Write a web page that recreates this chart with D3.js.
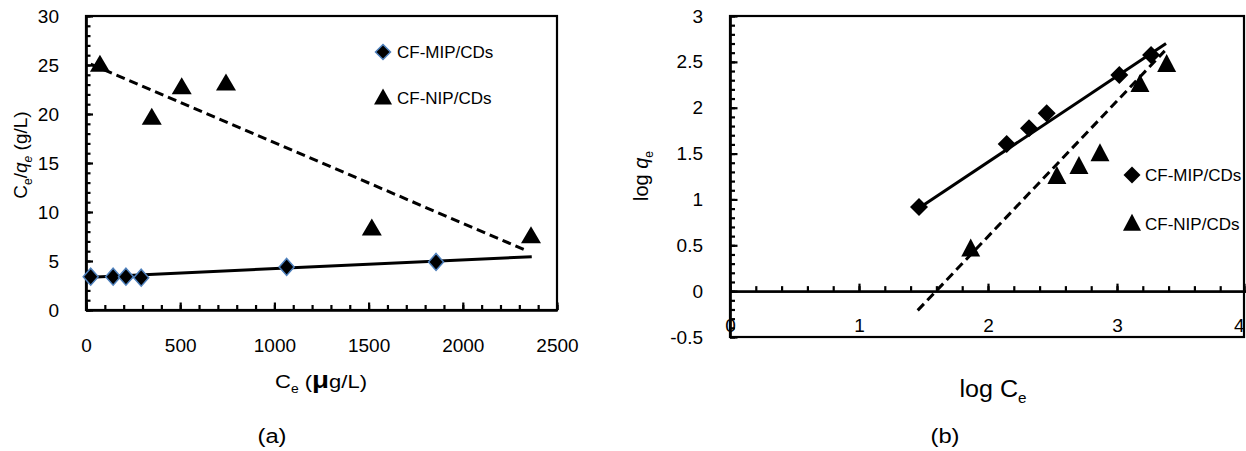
<!DOCTYPE html>
<html>
<head>
<meta charset="utf-8">
<script src="https://cdn.jsdelivr.net/npm/d3@7"></script>
<style>
  body { margin: 0; background: #fff; }
  text { font-family: "Liberation Sans", Arial, sans-serif; fill: #000; }
</style>
</head>
<body>
<svg id="fig" width="1246" height="451"></svg>
<script>
// ---- data ----
// panel (a): linear form Ce/qe vs Ce
const mipCe    = [25, 144, 212, 293, 1065, 1858];
const mipRatio = [3.4, 3.4, 3.4, 3.3, 4.4, 4.9];
const nipCe    = [74, 349, 508, 743, 1517, 2362];
const nipRatio = [25.0, 19.6, 22.7, 23.1, 8.3, 7.5];
const mipFitCe = [25, 2366],  mipFitRatio = [3.35, 5.44];
const nipFitCe = [25, 2340],  nipFitRatio = [25.1, 6.05];

// panel (b): log qe vs log Ce
const mipLogCe = [1.465, 2.145, 2.318, 2.455, 3.018, 3.264];
const mipLogQe = [0.917, 1.605, 1.776, 1.94, 2.358, 2.576];
const nipLogCe = [1.866, 2.534, 2.705, 2.868, 3.178, 3.385];
const nipLogQe = [0.455, 1.248, 1.357, 1.496, 2.249, 2.467];
const mipFitLogCe = [1.46, 3.38],  mipFitLogQe = [0.90, 2.70];
const nipFitLogCe = [1.455, 3.37], nipFitLogQe = [-0.21, 2.62];

const seriesNames = ["CF-MIP/CDs", "CF-NIP/CDs"];
const xTicksA = [0, 500, 1000, 1500, 2000, 2500];
const yTicksA = [0, 5, 10, 15, 20, 25, 30];
const xTicksB = [0, 1, 2, 3, 4];
const yTicksB = [-0.5, 0, 0.5, 1, 1.5, 2, 2.5, 3];

const svg = d3.select("#fig");

// small shape helpers (centered on 0,0)
function diamond(w, h) {
  return `M0,${-h/2}L${w/2},0L0,${h/2}L${-w/2},0Z`;
}
function triangle(w, h) {
  return `M0,${-h*0.6}L${w/2},${h*0.4}L${-w/2},${h*0.4}Z`;
}
const zip = (a, b) => a.map((v, i) => [v, b[i]]);
const plain = d => String(d);   // "-0.5", "2500", no grouping

// ================= panel (a) =================
const xA = d3.scaleLinear().domain([0, 2500]).range([86, 557]);
const yA = d3.scaleLinear().domain([0, 30]).range([310, 16]);
const gA = svg.append("g");

// frame
gA.append("rect").attr("x", 86).attr("y", 16)
  .attr("width", 557 - 86).attr("height", 310 - 16)
  .attr("fill", "none").attr("stroke", "#000").attr("stroke-width", 2.2);

// minor ticks
gA.append("g").attr("transform", "translate(86,0)")
  .call(d3.axisLeft(yA).tickValues(d3.range(0, 31, 1)).tickSize(-4.5).tickSizeOuter(0).tickFormat(""));
gA.append("g").attr("transform", "translate(0,310)")
  .call(d3.axisBottom(xA).tickValues(d3.range(0, 2501, 100)).tickSize(-5).tickSizeOuter(0).tickFormat(""));
// major ticks + labels
gA.append("g").attr("transform", "translate(86,0)")
  .call(d3.axisLeft(yA).tickValues(yTicksA).tickSize(-7).tickSizeOuter(0).tickPadding(27).tickFormat(plain));
gA.append("g").attr("transform", "translate(0,310)")
  .call(d3.axisBottom(xA).tickValues(xTicksA).tickSize(-7.5).tickSizeOuter(0).tickPadding(29).tickFormat(plain));

// fit lines
const lineA = d3.line().x(d => xA(d[0])).y(d => yA(d[1]));
gA.append("path").datum(zip(nipFitCe, nipFitRatio)).attr("d", lineA)
  .attr("fill", "none").attr("stroke", "#000").attr("stroke-width", 3)
  .attr("stroke-dasharray", "9,5");
gA.append("path").datum(zip(mipFitCe, mipFitRatio)).attr("d", lineA)
  .attr("fill", "none").attr("stroke", "#000").attr("stroke-width", 3);

// points
gA.selectAll(".nipA").data(zip(nipCe, nipRatio)).join("path")
  .attr("d", triangle(20, 17))
  .attr("transform", d => `translate(${xA(d[0])},${yA(d[1])})`)
  .attr("fill", "#000");
gA.selectAll(".mipA").data(zip(mipCe, mipRatio)).join("path")
  .attr("d", diamond(15, 17))
  .attr("transform", d => `translate(${xA(d[0])},${yA(d[1])})`)
  .attr("fill", "#000").attr("stroke", "#4f81bd").attr("stroke-width", 1.5);

// legend
gA.append("path").attr("d", diamond(15, 15)).attr("transform", "translate(383,52)")
  .attr("fill", "#000").attr("stroke", "#4f81bd").attr("stroke-width", 1.5);
gA.append("text").attr("x", 397).attr("y", 58).attr("font-size", 17).text(seriesNames[0]);
gA.append("path").attr("d", triangle(18, 16)).attr("transform", "translate(383,98)")
  .attr("fill", "#000");
gA.append("text").attr("x", 397).attr("y", 104).attr("font-size", 17).text(seriesNames[1]);

// axis titles
const xtA = gA.append("text").attr("x", 321).attr("y", 388).attr("text-anchor", "middle")
  .attr("font-size", 19).attr("textLength", 92).attr("lengthAdjust", "spacingAndGlyphs");
xtA.append("tspan").text("C");
xtA.append("tspan").attr("dy", 5).attr("font-size", 12).text("e");
xtA.append("tspan").attr("dy", -5).text(" (");
xtA.append("tspan").attr("font-weight", "bold").attr("font-size", 24).text("μ");
xtA.append("tspan").text("g/L)");

const ytA = gA.append("text").attr("transform", "translate(27,155) rotate(-90)")
  .attr("text-anchor", "middle").attr("font-size", 19);
ytA.append("tspan").text("C");
ytA.append("tspan").attr("dy", 5).attr("font-size", 12).text("e");
ytA.append("tspan").attr("dy", -5).text("/");
ytA.append("tspan").attr("font-style", "italic").text("q");
ytA.append("tspan").attr("dy", 5).attr("font-size", 12).attr("font-style", "italic").text("e");
ytA.append("tspan").attr("dy", -5).text(" (g/L)");

gA.append("text").attr("x", 272).attr("y", 443).attr("text-anchor", "middle")
  .attr("font-size", 20).attr("textLength", 29).attr("lengthAdjust", "spacingAndGlyphs").text("(a)");

// ================= panel (b) =================
const xB = d3.scaleLinear().domain([0, 4]).range([730, 1246]);
const yB = d3.scaleLinear().domain([-0.5, 3]).range([337, 16]);
const gB = svg.append("g");

gB.append("rect").attr("x", 730).attr("y", 16)
  .attr("width", 1244 - 730).attr("height", 337 - 16)
  .attr("fill", "none").attr("stroke", "#000").attr("stroke-width", 2.2);

// minor ticks
gB.append("g").attr("transform", "translate(730,0)")
  .call(d3.axisLeft(yB).tickValues(d3.range(-5, 31, 1).map(v => v / 10)).tickSize(-5).tickSizeOuter(0).tickFormat(""));
gB.append("g").attr("transform", `translate(0,${yB(0)})`)
  .call(d3.axisBottom(xB).tickValues(d3.range(0, 21, 1).map(v => v / 5)).tickSize(-5).tickSizeOuter(0).tickFormat(""));
// major ticks + labels
gB.append("g").attr("transform", "translate(730,0)")
  .call(d3.axisLeft(yB).tickValues(yTicksB).tickSize(-7.5).tickSizeOuter(0).tickPadding(27).tickFormat(plain));
const xAxB = gB.append("g").attr("transform", `translate(0,${yB(0)})`)
  .call(d3.axisBottom(xB).tickValues(xTicksB).tickSize(-7.5).tickSizeOuter(0).tickPadding(27).tickFormat(plain));
// last label sits on the page edge, keep it inside
xAxB.selectAll(".tick text").filter(d => d === 4).attr("text-anchor", "end").attr("dx", -2);

const lineB = d3.line().x(d => xB(d[0])).y(d => yB(d[1]));
gB.append("path").datum(zip(nipFitLogCe, nipFitLogQe)).attr("d", lineB)
  .attr("fill", "none").attr("stroke", "#000").attr("stroke-width", 3)
  .attr("stroke-dasharray", "9,5");
gB.append("path").datum(zip(mipFitLogCe, mipFitLogQe)).attr("d", lineB)
  .attr("fill", "none").attr("stroke", "#000").attr("stroke-width", 3);

gB.selectAll(".nipB").data(zip(nipLogCe, nipLogQe)).join("path")
  .attr("d", triangle(19, 18))
  .attr("transform", d => `translate(${xB(d[0])},${yB(d[1])})`)
  .attr("fill", "#000");
gB.selectAll(".mipB").data(zip(mipLogCe, mipLogQe)).join("path")
  .attr("d", diamond(18, 18))
  .attr("transform", d => `translate(${xB(d[0])},${yB(d[1])})`)
  .attr("fill", "#000");

// legend
gB.append("path").attr("d", diamond(17, 17)).attr("transform", "translate(1132,175)").attr("fill", "#000");
gB.append("text").attr("x", 1145).attr("y", 181).attr("font-size", 17).text(seriesNames[0]);
gB.append("path").attr("d", triangle(18, 17)).attr("transform", "translate(1132,224)").attr("fill", "#000");
gB.append("text").attr("x", 1145).attr("y", 230).attr("font-size", 17).text(seriesNames[1]);

const ytB = gB.append("text").attr("transform", "translate(648,176) rotate(-90)")
  .attr("text-anchor", "middle").attr("font-size", 20);
ytB.append("tspan").text("log ");
ytB.append("tspan").attr("font-style", "italic").text("q");
ytB.append("tspan").attr("dy", 5).attr("font-size", 12).text("e");

const xtB = gB.append("text").attr("x", 993).attr("y", 397).attr("text-anchor", "middle")
  .attr("font-size", 23).attr("textLength", 67).attr("lengthAdjust", "spacingAndGlyphs");
xtB.append("tspan").text("log C");
xtB.append("tspan").attr("dy", 6).attr("font-size", 14).text("e");

gB.append("text").attr("x", 945).attr("y", 443).attr("text-anchor", "middle")
  .attr("font-size", 20).attr("textLength", 29).attr("lengthAdjust", "spacingAndGlyphs").text("(b)");

// common axis styling
svg.selectAll(".domain").attr("stroke", "#000").attr("stroke-width", 2.2);
svg.selectAll(".tick line").attr("stroke", "#000").attr("stroke-width", 2.2);
svg.selectAll(".tick text").attr("font-size", 19).attr("font-family", "'Liberation Sans', Arial, sans-serif");
</script>
</body>
</html>
